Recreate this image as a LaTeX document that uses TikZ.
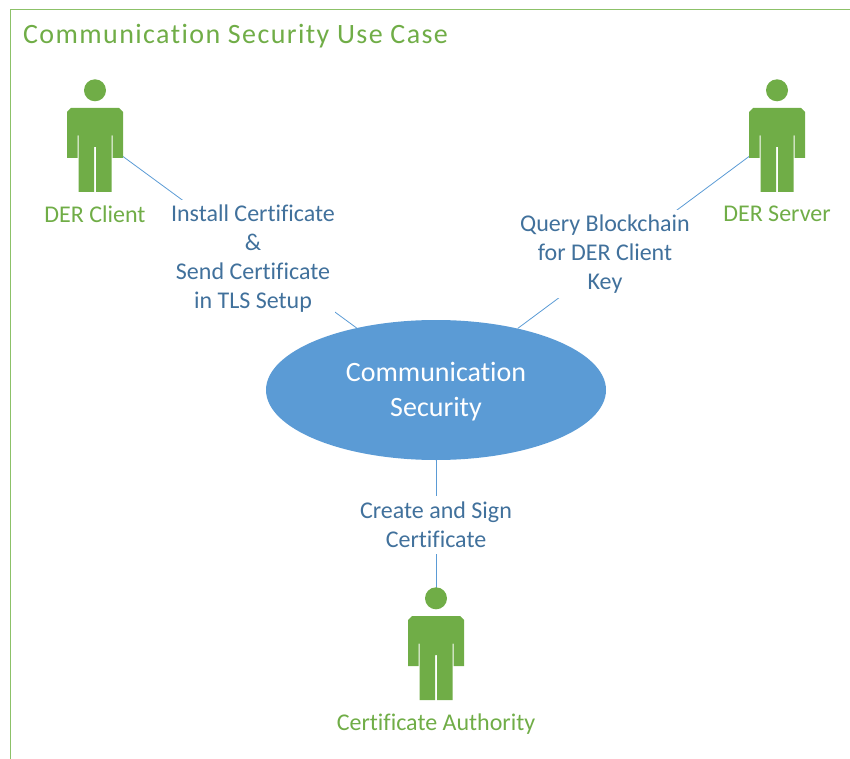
\documentclass[tikz,border=0pt]{standalone}
\usepackage{fontspec}
\setmainfont[Ligatures={NoCommon}]{Carlito}
\newfontfamily\wide[LetterSpace=5,Ligatures={NoCommon}]{Carlito}
\usetikzlibrary{shapes.geometric}
\definecolor{grn}{HTML}{70AD47}
\definecolor{frm}{HTML}{8CC168}
\definecolor{blu}{HTML}{5B9BD5}
\definecolor{lbl}{HTML}{41719C}
\tikzset{
 x=1pt,y=-1pt,
 actorname/.style={text=grn,font=\fontsize{24}{28}\selectfont,inner sep=0pt},
 edgelabel/.style={text=lbl,font=\fontsize{24}{29}\selectfont,align=center,fill=white,inner sep=0pt},
 link/.style={draw=blu,line width=0.8pt},
 usecase/.style={ellipse,fill=blu,minimum width=340pt,minimum height=140pt,inner sep=0pt},
 usecasetext/.style={text=white,align=center,inner sep=0pt,font=\fontsize{28}{34}\selectfont},
 pics/actor/.style={code={
  \fill[grn] (0,-17.7) circle[radius=11];
  \fill[grn] (-24,0) -- (24,0) -- (28,4) -- (28,50) -- (17.5,50) -- (17.5,27.5) -- (16.5,27.5) -- (16.5,84) -- (1,84) -- (1,39) -- (-1,39) -- (-1,84) -- (-16.5,84) -- (-16.5,27.5) -- (-17.5,27.5) -- (-17.5,50) -- (-28,50) -- (-28,4) -- cycle;
 }}
}
\begin{document}
\begin{tikzpicture}
\useasboundingbox (0,0) rectangle (850,759);
\draw[frm,line width=1pt] (850,9.5) -- (10.5,9.5) -- (10.5,759);
\node[anchor=west,inner sep=0pt,text=grn,font=\wide\fontsize{28}{30}\selectfont] (title) at (23,36) {Communication Security Use Case};
\node[usecase] (uc) at (436,390) {};
\node[usecasetext] (uctext) at (436,392) {Communication\\[1pt]Security};
\coordinate (ca) at (123,156.5);
\coordinate (sa) at (749,156.5);
\coordinate (aa) at (436,588);
\draw[link] (ca) -- (uc.142);
\draw[link] (sa) -- (uc.37);
\draw[link] (aa) -- (uc.south);
\pic at (95,108) {actor};
\pic at (777,108) {actor};
\pic at (436,616) {actor};
\node[actorname] (cn) at (95,214) {DER Client};
\node[actorname] (sn) at (777,214) {DER Server};
\node[actorname] (an) at (436,724.5) {Certificate Authority};
\node[edgelabel,minimum height=118pt] (l1) at (253,259) {Install Certificate\\\&\\Send Certificate\\in TLS Setup};
\node[edgelabel,minimum height=88pt] (l2) at (605,254) {Query Blockchain\\for DER Client\\Key};
\node[edgelabel,minimum height=58pt] (l3) at (436,525) {Create and Sign\\Certificate};
\end{tikzpicture}
\end{document}
